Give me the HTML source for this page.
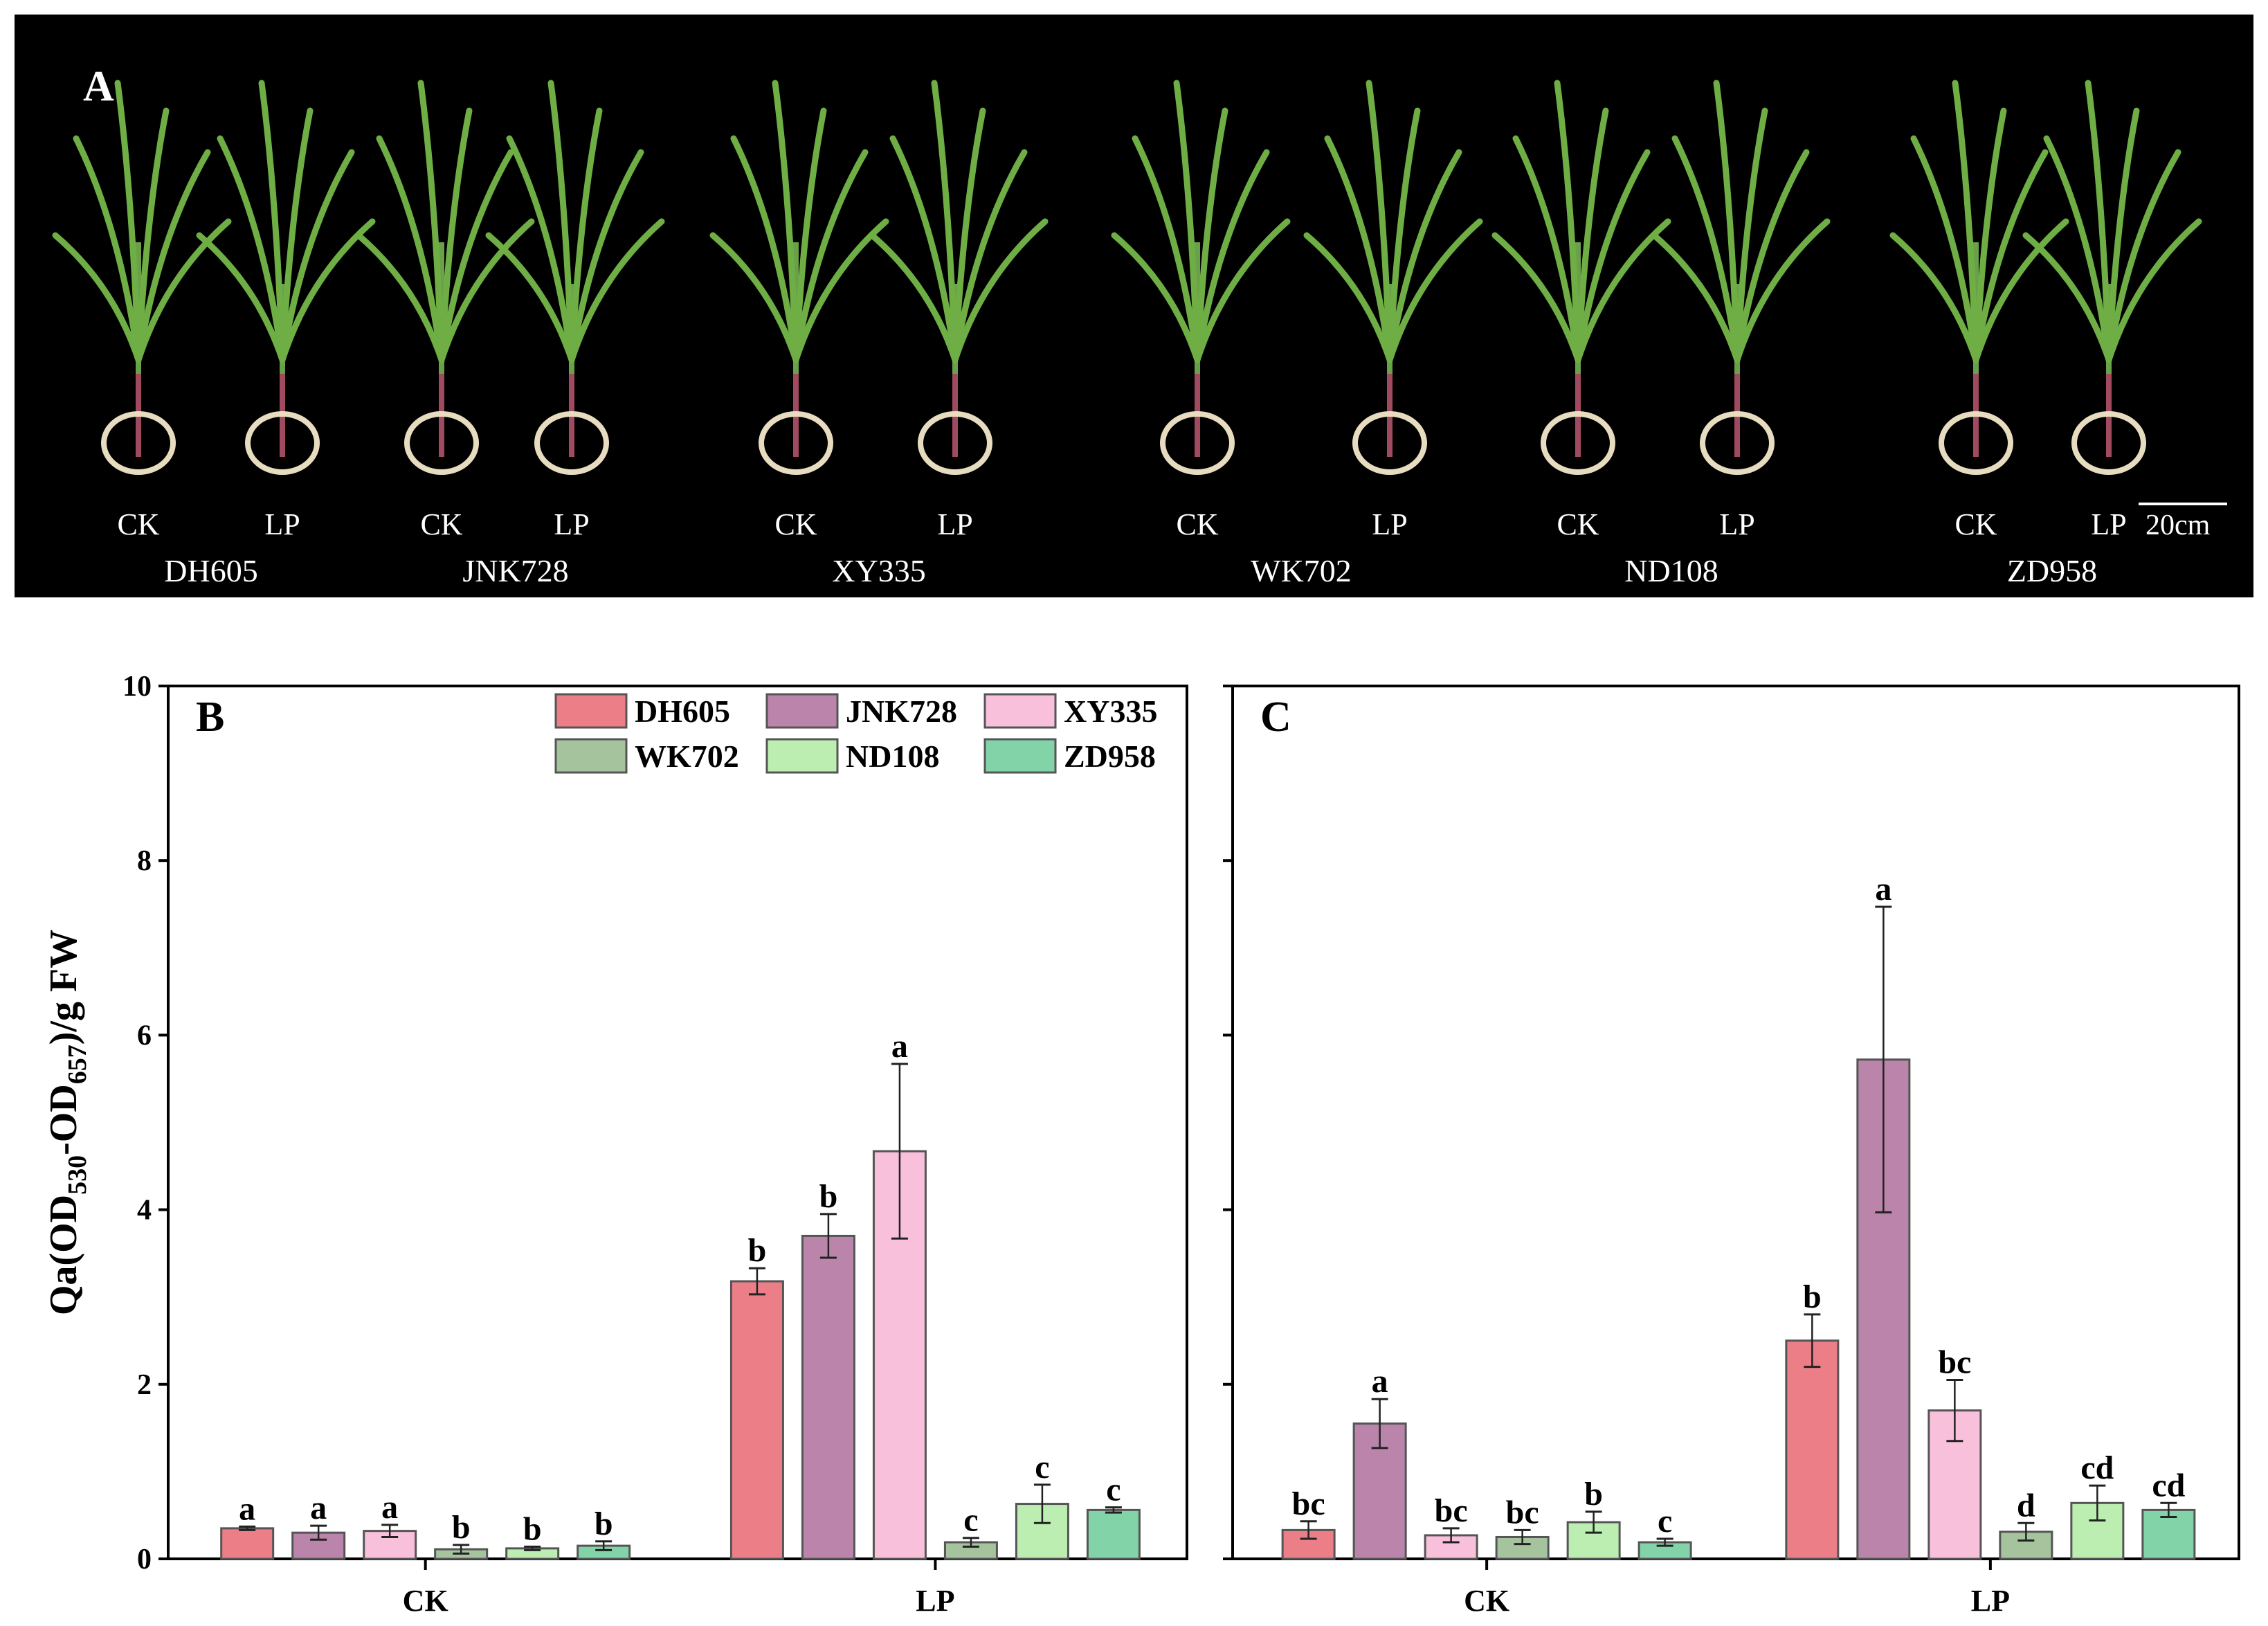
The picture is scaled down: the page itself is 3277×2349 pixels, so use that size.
<!DOCTYPE html>
<html><head><meta charset="utf-8">
<style>
html,body{margin:0;padding:0;background:#fff;}
svg{display:block;}
text{font-family:"Liberation Serif",serif;}
</style></head>
<body>
<svg id="fig" width="3277" height="2349" viewBox="0 0 3277 2349" xmlns="http://www.w3.org/2000/svg">
<rect x="0" y="0" width="3277" height="2349" fill="#fff"/>
<g id="photo">
<rect x="21" y="21" width="3235" height="842" fill="#000"/>
<text x="120" y="145" font-size="62" font-weight="bold" fill="#fff">A</text>
</g>
<g id="chartB"></g>
<g id="chartC"></g>
</svg>
<script>
const NS="http://www.w3.org/2000/svg";
const cultivars=["DH605","JNK728","XY335","WK702","ND108","ZD958"];
const colors=["#ec7e88","#bb85ab","#f8c0da","#a5c49e","#bbeeb0","#82d3a7"];
const groups=["CK","LP"];
const bCK=[0.35,0.30,0.32,0.11,0.12,0.15];
const bCKerr=[0.02,0.08,0.07,0.05,0.02,0.05];
const bCKlab=["a","a","a","b","b","b"];
const bLP=[3.18,3.70,4.67,0.19,0.63,0.56];
const bLPerr=[0.15,0.25,1.00,0.05,0.22,0.03];
const bLPlab=["b","b","a","c","c","c"];
const cCK=[0.33,1.55,0.27,0.25,0.42,0.19];
const cCKerr=[0.10,0.28,0.08,0.08,0.12,0.04];
const cCKlab=["bc","a","bc","bc","b","c"];
const cLP=[2.50,5.72,1.70,0.31,0.64,0.56];
const cLPerr=[0.30,1.75,0.35,0.10,0.20,0.08];
const cLPlab=["b","a","bc","d","cd","cd"];
const yTicks=[0,2,4,6,8,10];

function mk(parent,tag,attrs,txt){const e=document.createElementNS(NS,tag);for(const k in attrs)e.setAttribute(k,attrs[k]);if(txt!==undefined)e.textContent=txt;parent.appendChild(e);return e;}

const photo=document.getElementById('photo');
const plantX=[200,408,638,826,1150,1380,1730,2008,2280,2510,2855,3047];
const plantLab=["CK","LP","CK","LP","CK","LP","CK","LP","CK","LP","CK","LP"];
plantX.forEach((px,i)=>{
  const g=mk(photo,'g',{});
  
  
  const top=i%2? 260:200;
  mk(g,'path',{d:`M${px} 640 L${px} ${top+150}`,stroke:'#6aa04a','stroke-width':8,fill:'none'});
  mk(g,'path',{d:`M${px} 540 L${px} 660`,stroke:'#a04a60','stroke-width':8,fill:'none'});
  [[-90,-320],[100,-300],[-120,-180],[130,-200],[-30,-400],[40,-360]].forEach(([dx,dy])=>{
    mk(g,'path',{d:`M${px} 520 Q${px+dx*0.3} ${520+dy*0.6} ${px+dx} ${520+dy}`,stroke:'#6fae45','stroke-width':9,fill:'none','stroke-linecap':'round'});
  });
  mk(g,'ellipse',{cx:px,cy:640,rx:50,ry:42,fill:'none',stroke:'#e8dcc0','stroke-width':8});
  mk(g,'text',{x:px,y:772,'font-size':44,fill:'#fff','text-anchor':'middle'},plantLab[i]);
});
const nameX=[305,745,1270,1880,2415,2965];
cultivars.forEach((c,i)=>{
  const t=mk(photo,'text',{x:nameX[i],y:840,'font-size':46,fill:'#fff','text-anchor':'middle'},c);
  
  
});
mk(photo,'line',{x1:3090,y1:728,x2:3218,y2:728,stroke:'#fff','stroke-width':4});
mk(photo,'text',{x:3100,y:772,'font-size':42,fill:'#fff'},"20cm");

function drawChart(gid,L,R,T,B,ck,ckE,ckL,lp,lpE,lpL,label,showY,showLegend){
  const root=document.getElementById(gid);
  const y=v=>B-(v/10)*(B-T);
  const gc=[L+(R-L)*0.2525,L+(R-L)*0.753];
  const step=103,bw=75;
  mk(root,'rect',{x:L,y:T,width:R-L,height:B-T,fill:'none',stroke:'#000','stroke-width':4});
  const pl=mk(root,'text',{x:L+40,y:T+65,'font-size':62,'font-weight':'bold'},label);
  
  
  yTicks.forEach(t=>{
    mk(root,'line',{x1:L-14,x2:L,y1:y(t),y2:y(t),stroke:'#000','stroke-width':4});
    if(showY){const tl=mk(root,'text',{x:L-24,y:y(t)+14,'font-size':42,'font-weight':'bold','text-anchor':'end'},t);
      
      }
  });
  groups.forEach((gname,gi)=>{
    mk(root,'line',{x1:gc[gi],x2:gc[gi],y1:B,y2:B+16,stroke:'#000','stroke-width':4});
    const xl=mk(root,'text',{x:gc[gi],y:B+75,'font-size':44,'font-weight':'bold','text-anchor':'middle'},gname);
    
    
    const vals=gi?lp:ck,errs=gi?lpE:ckE,labs=gi?lpL:ckL;
    vals.forEach((v,i)=>{
      const cx=gc[gi]+(i-2.5)*step;
      const r=mk(root,'rect',{x:cx-bw/2,y:y(v),width:bw,height:B-y(v),fill:colors[i],stroke:'#555','stroke-width':3});
      
      
      const e=errs[i];
      mk(root,'line',{x1:cx,x2:cx,y1:y(v+e),y2:y(Math.max(0,v-e)),stroke:'#222','stroke-width':2.5});
      mk(root,'line',{x1:cx-12,x2:cx+12,y1:y(v+e),y2:y(v+e),stroke:'#222','stroke-width':3});
      mk(root,'line',{x1:cx-12,x2:cx+12,y1:y(Math.max(0,v-e)),y2:y(Math.max(0,v-e)),stroke:'#222','stroke-width':3});
      const sl=mk(root,'text',{x:cx,y:y(v+e)-10,'font-size':48,'font-weight':'bold','text-anchor':'middle'},labs[i]);
      
      
    });
  });
  if(showY){
    const yt=mk(root,'text',{x:0,y:0,'font-size':56,'font-weight':'bold','text-anchor':'middle',transform:`translate(110,${(T+B)/2}) rotate(-90)`});
    
    
    yt.innerHTML='Qa(OD<tspan font-size="38" dy="14">530</tspan><tspan dy="-14">-OD</tspan><tspan font-size="38" dy="14">657</tspan><tspan dy="-14">)/g FW</tspan>';
  }
  if(showLegend){
    const colX=[803,1108,1423],rowY=[1003,1068];
    cultivars.forEach((c,i)=>{
      const lx=colX[i%3],ly=rowY[Math.floor(i/3)];
      const lg=mk(root,'g',{});
      
      
      mk(lg,'rect',{x:lx,y:ly,width:102,height:48,fill:colors[i],stroke:'#555','stroke-width':3});
      mk(lg,'text',{x:lx+114,y:ly+40,'font-size':46,'font-weight':'bold'},c);
    });
  }
}
drawChart('chartB',243,1715,991,2252,bCK,bCKerr,bCKlab,bLP,bLPerr,bLPlab,'B',true,true);
drawChart('chartC',1781,3235,991,2252,cCK,cCKerr,cCKlab,cLP,cLPerr,cLPlab,'C',false,false);
</script>
</body></html>
